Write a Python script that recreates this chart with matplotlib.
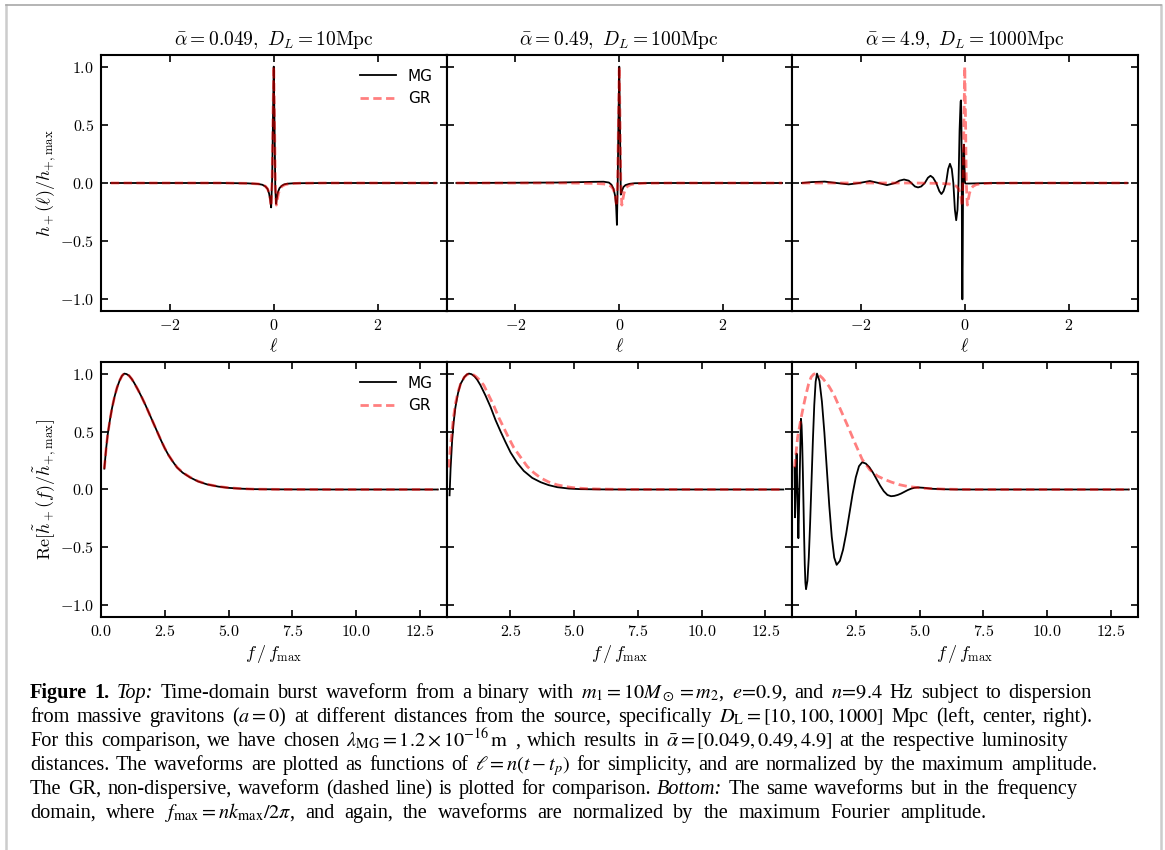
import matplotlib
matplotlib.use('Agg')
import matplotlib.pyplot as plt
from matplotlib.ticker import FuncFormatter
from matplotlib.lines import Line2D

plt.rcParams['mathtext.fontset'] = 'cm'
plt.rcParams['font.family'] = 'DejaVu Sans'

# ---- data ----
titles = [r'$\bar{\alpha}=0.049,\ D_L=10\mathrm{Mpc}$',
          r'$\bar{\alpha}=0.49,\ D_L=100\mathrm{Mpc}$',
          r'$\bar{\alpha}=4.9,\ D_L=1000\mathrm{Mpc}$']

# top row: time domain, GR waveform (same in every panel)
ell_gr = [-3.14, -1.0, -0.5, -0.3, -0.22, -0.16, -0.12, -0.09, -0.07, -0.05, -0.03, -0.015, 0.0,
          0.015, 0.03, 0.05, 0.07, 0.09, 0.12, 0.16, 0.22, 0.3, 0.5, 1.0, 3.14]
h_gr = [0.0, 0.0, -0.003, -0.008, -0.015, -0.028, -0.05, -0.085, -0.13, -0.2, 0.05, 0.55, 1.0,
        0.55, 0.0, -0.19, -0.14, -0.09, -0.05, -0.028, -0.014, -0.007, -0.002, 0.0, 0.0]

# MG, alpha = 0.049
ell_mg1 = [-3.14, -1.0, -0.5, -0.3, -0.22, -0.16, -0.12, -0.09, -0.07, -0.05, -0.03, -0.015, 0.0,
           0.015, 0.03, 0.045, 0.06, 0.08, 0.11, 0.15, 0.2, 0.26, 0.4, 1.0, 3.14]
h_mg1 = [0.0, 0.0, -0.003, -0.008, -0.015, -0.03, -0.05, -0.09, -0.14, -0.21, 0.05, 0.55, 1.0,
         0.5, -0.05, -0.18, -0.13, -0.08, -0.045, -0.025, -0.012, -0.006, -0.002, 0.0, 0.0]

# MG, alpha = 0.49
ell_mg2 = [-3.14, -2.0, -1.2, -0.8, -0.5, -0.3, -0.2, -0.15, -0.11, -0.08, -0.06, -0.045, -0.03,
           -0.015, 0.0, 0.015, 0.03, 0.05, 0.08, 0.12, 0.2, 0.3, 0.6, 1.5, 3.14]
h_mg2 = [0.0, 0.002, 0.004, 0.007, 0.01, 0.011, 0.004, -0.015, -0.05, -0.11, -0.2, -0.36, 0.0,
         0.55, 1.0, 0.45, -0.1, -0.07, -0.035, -0.018, -0.007, -0.002, 0.0, 0.0, 0.0]

# MG, alpha = 4.9
ell_mg3 = [-3.14, -2.95, -2.70, -2.47, -2.24, -2.03, -1.83, -1.66, -1.50, -1.34,
           -1.26, -1.17, -1.08, -1.03, -0.96, -0.90, -0.84, -0.77, -0.71, -0.66,
           -0.61, -0.55, -0.49, -0.45, -0.41, -0.36, -0.32, -0.285, -0.25, -0.22,
           -0.19, -0.165, -0.14, -0.12, -0.10, -0.08, -0.072, -0.064, -0.058, -0.052,
           -0.046, -0.04, -0.032, -0.022, -0.014, -0.006, 0.005, 0.02, 0.5, 3.14]
h_mg3 = [0.0, 0.008, 0.012, 0.0, -0.012, 0.0, 0.017, 0.0, -0.018, 0.0,
         0.02, 0.03, 0.02, 0.0, -0.03, -0.038, -0.03, 0.0, 0.045, 0.062,
         0.045, 0.0, -0.07, -0.095, -0.07, 0.0, 0.12, 0.165, 0.12, 0.0,
         -0.23, -0.32, -0.23, 0.0, 0.45, 0.70, 0.71, 0.5, 0.0, -0.7,
         -1.0, -0.7, 0.0, 0.28, 0.33, 0.15, 0.0, -0.005, 0.0, 0.0]

# bottom row: frequency domain
f_mg1 = [0.13, 0.2, 0.26, 0.35, 0.43, 0.53, 0.63, 0.73, 0.82, 0.91, 1.0, 1.1, 1.2, 1.3, 1.45,
         1.6, 1.75, 1.9, 2.05, 2.2, 2.35, 2.5, 2.65, 2.8, 2.98, 3.2, 3.5, 3.8, 4.16, 4.6,
         5.0, 5.5, 6.0, 7.0, 9.0, 13.2]
v_mg1 = [0.18, 0.35, 0.47, 0.60, 0.70, 0.80, 0.88, 0.94, 0.98, 1.0, 0.996, 0.982, 0.955, 0.92, 0.86,
         0.795, 0.725, 0.65, 0.575, 0.50, 0.425, 0.355, 0.295, 0.245, 0.19, 0.145, 0.103, 0.07, 0.044, 0.025,
         0.014, 0.007, 0.003, 0.001, 0.0, 0.0]
f_gr1 = [0.13, 0.2, 0.26, 0.35, 0.43, 0.53, 0.63, 0.73, 0.82, 0.91, 1.0, 1.1, 1.2, 1.3, 1.45,
         1.6, 1.75, 1.9, 2.05, 2.2, 2.35, 2.5, 2.65, 2.8, 2.98, 3.2, 3.5, 3.8, 4.16, 4.6,
         5.0, 5.5, 6.0, 7.0, 9.0, 13.2]
v_gr1 = [0.18, 0.35, 0.47, 0.60, 0.70, 0.80, 0.88, 0.94, 0.98, 1.0, 0.996, 0.982, 0.955, 0.92, 0.86,
         0.795, 0.725, 0.65, 0.575, 0.50, 0.425, 0.356, 0.296, 0.246, 0.192, 0.147, 0.105, 0.072, 0.045, 0.026,
         0.015, 0.007, 0.003, 0.001, 0.0, 0.0]

f_mg2 = [0.12, 0.16, 0.22, 0.28, 0.35, 0.45, 0.55, 0.7, 0.8, 0.88, 0.98, 1.1, 1.2, 1.33, 1.53, 1.73, 1.92,
         2.12, 2.31, 2.51, 2.77, 3.03, 3.36, 3.69, 4.0, 4.34, 4.8, 5.25, 6.0, 7.0, 13.2]
v_mg2 = [-0.05, 0.18, 0.42, 0.58, 0.71, 0.83, 0.91, 0.97, 0.993, 1.0, 0.995, 0.975, 0.948, 0.90, 0.81, 0.71, 0.60,
         0.50, 0.41, 0.32, 0.23, 0.16, 0.10, 0.063, 0.038, 0.02, 0.008, 0.003, 0.001, 0.0, 0.0]
f_gr2 = [0.09, 0.15, 0.22, 0.28, 0.35, 0.45, 0.55, 0.7, 0.82, 0.92, 1.02, 1.15, 1.3, 1.46, 1.66, 1.86, 2.05, 2.25,
         2.45, 2.64, 2.9, 3.16, 3.42, 3.69, 4.0, 4.34, 4.7, 5.0, 5.5, 6.0, 7.0, 13.2]
v_gr2 = [0.19, 0.36, 0.51, 0.63, 0.74, 0.84, 0.91, 0.97, 0.993, 1.0, 0.995, 0.975, 0.945, 0.90, 0.81, 0.72, 0.62, 0.53,
         0.44, 0.36, 0.28, 0.20, 0.145, 0.10, 0.065, 0.04, 0.024, 0.015, 0.007, 0.004, 0.001, 0.0]

f_mg3 = [0.10, 0.12, 0.15, 0.18, 0.215, 0.25, 0.30, 0.35, 0.375, 0.40,
         0.425, 0.45, 0.475, 0.50, 0.525, 0.55, 0.604, 0.6575, 0.711, 0.765,
         0.819, 0.8725, 0.926, 0.98, 1.076, 1.1725, 1.269, 1.365, 1.461, 1.558,
         1.654, 1.75, 1.875, 2.0, 2.125, 2.25, 2.375, 2.5, 2.625, 2.75,
         2.891, 3.0325, 3.174, 3.315, 3.456, 3.5975, 3.739, 3.88, 4.011, 4.1425,
         4.274, 4.405, 4.536, 4.6675, 4.799, 4.93, 5.2, 5.5, 6.0, 6.5, 13.2]
v_mg3 = [0.19, -0.24, 0.05, 0.31, -0.05, -0.42, 0.10, 0.61, 0.554, 0.395,
         0.156, -0.125, -0.406, -0.645, -0.804, -0.86, -0.789, -0.588, -0.286, 0.07,
         0.426, 0.728, 0.929, 1.0, 0.937, 0.758, 0.491, 0.175, -0.141, -0.408,
         -0.587, -0.65, -0.616, -0.52, -0.377, -0.208, -0.038, 0.105, 0.201, 0.235,
         0.224, 0.192, 0.145, 0.089, 0.033, -0.015, -0.047, -0.058, -0.055, -0.047,
         -0.035, -0.02, -0.005, 0.007, 0.015, 0.018, 0.014, 0.006, 0.002, 0.0, 0.0]
f_gr3 = [0.10, 0.16, 0.22, 0.35, 0.45, 0.55, 0.65, 0.75, 0.85, 0.94, 1.05, 1.2, 1.45, 1.66, 1.9, 2.18, 2.45,
         2.75, 3.05, 3.36, 3.62, 3.88, 4.2, 4.54, 5.2, 6.0, 7.0, 13.2]
v_gr3 = [0.19, 0.32, 0.45, 0.61, 0.72, 0.82, 0.91, 0.97, 0.995, 1.0, 0.99, 0.96, 0.89, 0.81, 0.69, 0.55, 0.41,
         0.26, 0.17, 0.115, 0.088, 0.065, 0.042, 0.026, 0.01, 0.003, 0.0, 0.0]

top_mg = [(ell_mg1, h_mg1), (ell_mg2, h_mg2), (ell_mg3, h_mg3)]
bot_mg = [(f_mg1, v_mg1), (f_mg2, v_mg2), (f_mg3, v_mg3)]
bot_gr = [(f_gr1, v_gr1), (f_gr2, v_gr2), (f_gr3, v_gr3)]

caption = [
    r"**Figure **1. *Top:* Time-domain burst waveform from a binary with $m_1 = 10M_\odot = m_2$, $e\!=\!0.9$, and $n\!=\!9.4$ Hz subject to dispersion",
    r"from massive gravitons ($a=0$) at different distances from the source, specifically $D_\mathrm{L} = [10, 100, 1000]$ Mpc (left, center, right).",
    r"For this comparison, we have chosen $\lambda_\mathrm{MG} = 1.2\times10^{-16}\,\mathrm{m}$ , which results in $\bar{\alpha} = [0.049, 0.49, 4.9]$ at the respective luminosity",
    r"distances. The waveforms are plotted as functions of $\ell = n(t-t_p)$ for simplicity, and are normalized by the maximum amplitude.",
    r"The GR, non-dispersive, waveform (dashed line) is plotted for comparison. *Bottom:* The same waveforms but in the frequency",
    r"domain, where $f_\mathrm{max} = nk_\mathrm{max}/2\pi$, and again, the waveforms are normalized by the maximum Fourier amplitude.",
]
caption_right = [1092, 1093, 1068, 1097, 1077, 986]

# ---- figure ----
W, H = 1165, 850
fig = plt.figure(figsize=(W / 100, H / 100), dpi=100)

lefts = [101, 446.5, 792]
aw = 345.5


def style(ax, xticks, fmt, show_y):
    ax.set_ylim(-1.1, 1.1)
    ax.set_yticks([-1, -0.5, 0, 0.5, 1])
    ax.set_xticks(xticks)
    ax.xaxis.set_major_formatter(FuncFormatter(lambda v, p: fmt % v))
    ax.yaxis.set_major_formatter(FuncFormatter(lambda v, p: '$%.1f$' % v))
    ax.tick_params(direction='in', top=True, right=True, length=5, width=1.2,
                   labelsize=11.5, labelleft=show_y, pad=5)
    for s in ax.spines.values():
        s.set_linewidth(1.5)


for i in range(3):
    # time domain
    ax = fig.add_axes([lefts[i] / W, 1 - 311 / H, aw / W, 256 / H])
    ax.plot(top_mg[i][0], top_mg[i][1], color='black', lw=1.3, label='MG')
    ax.plot(ell_gr, h_gr, color='red', alpha=0.5, lw=2.0, dashes=(3, 1.6), label='GR')
    ax.set_xlim(-3.33, 3.33)
    style(ax, [-2, 0, 2], '$%d$', i == 0)
    ax.set_title(titles[i], fontsize=14, pad=7)
    ax.set_xlabel(r'$\ell$', fontsize=13, labelpad=3)
    if i == 0:
        ax.set_ylabel(r'$h_+(\ell)/h_{+,\mathrm{max}}$', fontsize=13, labelpad=1)
        ax.legend(loc='upper right', frameon=False, fontsize=11, handlelength=2.3)

    # frequency domain
    ax = fig.add_axes([lefts[i] / W, 1 - 617 / H, aw / W, 255 / H])
    ax.plot(bot_mg[i][0], bot_mg[i][1], color='black', lw=1.3, label='MG')
    ax.plot(bot_gr[i][0], bot_gr[i][1], color='red', alpha=0.5, lw=2.0, dashes=(3, 1.6), label='GR')
    ax.set_xlim(0, 13.54)
    xt = [0, 2.5, 5, 7.5, 10, 12.5] if i == 0 else [2.5, 5, 7.5, 10, 12.5]
    style(ax, xt, '$%.1f$', i == 0)
    ax.set_xlabel(r'$f\,/\,f_{\mathrm{max}}$', fontsize=13, labelpad=3)
    if i == 0:
        ax.set_ylabel(r'$\mathrm{Re}[\tilde{h}_+(f)/\tilde{h}_{+,\mathrm{max}}]$', fontsize=13, labelpad=1)
        ax.legend(loc='upper right', frameon=False, fontsize=11, handlelength=2.3)

# page frame
fig.add_artist(Line2D([5.5 / W, 5.5 / W], [0, 1 - 4.5 / H], transform=fig.transFigure,
                      color='#cccccc', lw=1.8))
fig.add_artist(Line2D([1160.5 / W, 1160.5 / W], [0, 1 - 4.5 / H], transform=fig.transFigure,
                      color='#cccccc', lw=1.8))
fig.add_artist(Line2D([5.5 / W, 1160.5 / W], [1 - 4.5 / H, 1 - 4.5 / H], transform=fig.transFigure,
                      color='#a8a8a8', lw=1.2))


# caption, spread word by word to the reference line ends
def split_words(line):
    words, cur, in_math = [], '', False
    for ch in line:
        if ch == '$':
            in_math = not in_math
        if ch == ' ' and not in_math:
            if cur:
                words.append(cur)
            cur = ''
        else:
            cur += ch
    if cur:
        words.append(cur)
    return words


renderer = fig.canvas.get_renderer()
x0 = 30
for n, line in enumerate(caption):
    y = 1 - (698 + 24 * n) / H
    items = []
    for w in split_words(line):
        weight, fstyle = 'normal', 'normal'
        if w.startswith('**'):
            w, weight = w[2:], 'bold'
        elif w.startswith('*') and w.endswith('*'):
            w, fstyle = w[1:-1], 'italic'
        t = fig.text(0, y, w, fontsize=14.6, family='Liberation Serif', weight=weight,
                     style=fstyle, math_fontfamily='stix', va='baseline', ha='left')
        items.append(t)
    widths = [t.get_window_extent(renderer).width for t in items]
    gap = (caption_right[n] - x0 - sum(widths)) / (len(items) - 1)
    x = x0
    for t, w in zip(items, widths):
        t.set_x(x / W)
        x += w + gap

fig.savefig('out.png', dpi=100)
